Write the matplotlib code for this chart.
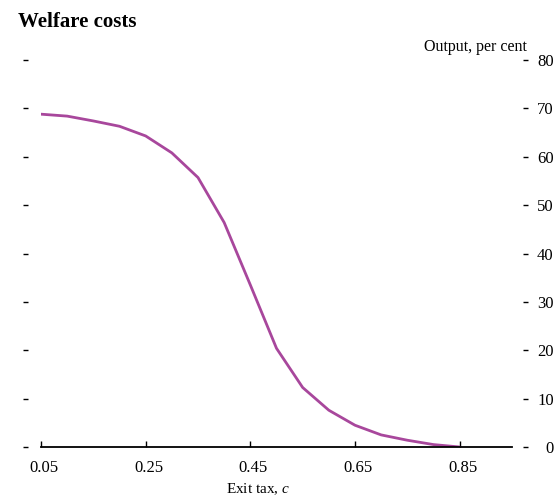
import matplotlib
matplotlib.use("Agg")
import matplotlib.pyplot as plt
import matplotlib.transforms as mtransforms

plt.rcParams['font.family'] = ['Liberation Serif', 'DejaVu Serif']
plt.rcParams['mathtext.fontset'] = 'custom'
plt.rcParams['mathtext.it'] = 'Liberation Serif:italic'
plt.rcParams['mathtext.rm'] = 'Liberation Serif'

# Exit tax c and output loss (per cent)
exit_tax = [0.05, 0.10, 0.15, 0.20, 0.25, 0.30, 0.35, 0.40, 0.45,
            0.50, 0.55, 0.60, 0.65, 0.70, 0.75, 0.80, 0.85]
output_cost = [68.8, 68.4, 67.4, 66.3, 64.3, 60.8, 55.7, 46.4, 33.5,
               20.4, 12.3, 7.6, 4.5, 2.5, 1.4, 0.5, 0.0]

x_ticks = [0.05, 0.25, 0.45, 0.65, 0.85]
y_ticks = [0, 10, 20, 30, 40, 50, 60, 70, 80]

fig = plt.figure(figsize=(5.6, 4.97), dpi=100)
ax = fig.add_axes([41/560, 1 - 447/497, (512 - 41)/560, (447 - 60)/497])

ax.plot(exit_tax, output_cost, color='#a8479c', lw=2.0, solid_capstyle='round')

ax.set_xlim(0.05, 0.95)
ax.set_ylim(0, 80)
ax.set_xticks(x_ticks)
ax.set_xticklabels([f"{v:.2f}" for v in x_ticks], fontsize=12)
ax.set_yticks(y_ticks)

# detached dashes on both sides (outward is in points)
ax.spines['top'].set_visible(False)
ax.spines['left'].set_position(('outward', 9.4))
ax.spines['left'].set_color('none')
ax.spines['right'].set_position(('outward', 7.9))
ax.spines['right'].set_color('none')
ax.spines['bottom'].set_linewidth(1.3)

ax.tick_params(axis='x', direction='in', length=4, width=1.0, pad=9)
ax.tick_params(axis='y', direction='out', length=3.6, width=1.0,
               left=True, right=True, labelleft=False, labelright=True,
               labelsize=12, pad=18.5)
for lab in ax.get_yticklabels():
    lab.set_horizontalalignment('right')

# tick labels sit a little right of their ticks in the original
shift = mtransforms.ScaledTranslation(3/100, 0, fig.dpi_scale_trans)
for lab in ax.get_xticklabels():
    lab.set_transform(lab.get_transform() + shift)

fig.text(258/560, 1 - 489/497, 'Exit tax, $c$', ha='center', va='center', fontsize=11)
fig.text(527/560, 1 - 47/497, 'Output, per cent', ha='right', va='center', fontsize=11.5)
fig.text(18/560, 1 - 22/497, 'Welfare costs', ha='left', va='center',
         fontsize=15, fontweight='bold')

fig.savefig('out.png', dpi=100)
